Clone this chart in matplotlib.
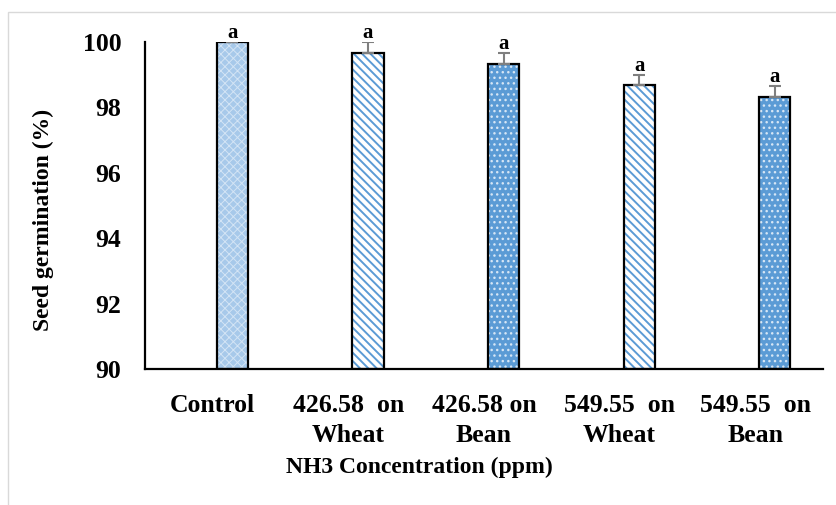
import numpy as np
import matplotlib.pyplot as plt
from matplotlib.patches import Rectangle

# datos
categorias = ["Control", "426.58  on\nWheat", "426.58 on\nBean", "549.55  on\nWheat", "549.55  on\nBean"]
germinacion = [100.0, 99.67, 99.33, 98.67, 98.33]
error = [0.0, 0.33, 0.33, 0.33, 0.33]
letras = ["a", "a", "a", "a", "a"]

plt.rcParams['font.family'] = ['Liberation Serif', 'DejaVu Serif']
plt.rcParams['font.weight'] = 'bold'

fig = plt.figure(figsize=(8.37, 5.05), dpi=100)
fig.patches.append(Rectangle((8 / 837, -0.1), 1.1, 1 - 12 / 505 + 0.1, transform=fig.transFigure,
                             fill=False, edgecolor='#d9d9d9', linewidth=1.0))
ax = fig.add_axes([145 / 837, (505 - 369) / 505, (823 - 145) / 837, (369 - 42) / 505])

x = np.arange(len(categorias))
xb = x + 0.145
ancho = 0.23

# estilos de relleno: (color de fondo, trama, color de trama, grosor de trama)
estilos = [
    ('#a7c9ea', 'xxxx', '#d3e4f5', 0.7),
    ('white', '\\\\\\\\', '#5b9bd5', 1.4),
    ('#5b9bd5', '...', '#d6e6f5', 1.0),
    ('white', '\\\\\\\\', '#5b9bd5', 1.4),
    ('#5b9bd5', '...', '#d6e6f5', 1.0),
]

for i in range(len(categorias)):
    fondo, trama, color_trama, grosor = estilos[i]
    plt.rcParams['hatch.linewidth'] = grosor
    ax.bar(xb[i], germinacion[i] - 90, bottom=90, width=ancho, color=fondo,
           hatch=trama, edgecolor=color_trama, linewidth=0, zorder=2)
    ax.bar(xb[i], germinacion[i] - 90, bottom=90, width=ancho, fill=False,
           edgecolor='black', linewidth=1.6, zorder=3)

ax.errorbar(xb, germinacion, yerr=[np.zeros(len(error)), error], fmt='none',
            ecolor='#7f7f7f', elinewidth=1.5, capsize=4.5, capthick=1.5, zorder=4)

for i in range(len(categorias)):
    ax.annotate(letras[i], (xb[i], germinacion[i] + error[i]), xytext=(0, 3),
                textcoords='offset points', ha='center', va='baseline',
                fontsize=15, fontweight='bold')

ax.set_ylim(90, 100)
ax.set_xlim(-0.5, 4.5)
ax.set_yticks([90, 92, 94, 96, 98, 100])
ax.set_xticks(x)
ax.set_xticklabels(categorias, fontsize=18.5, fontweight='bold', linespacing=1.4)
ax.tick_params(axis='y', length=0, pad=17, labelsize=18.5)
ax.tick_params(axis='x', length=0, pad=18)

for lado in ['top', 'right']:
    ax.spines[lado].set_visible(False)
for lado in ['left', 'bottom']:
    ax.spines[lado].set_linewidth(1.6)
ax.spines['bottom'].set_zorder(5)

ax.set_ylabel("Seed germination (%)", fontsize=17, fontweight='bold')
ax.yaxis.set_label_coords(-0.150, 0.456)
ax.yaxis.label.set_va('center')
ax.set_xlabel("NH3 Concentration (ppm)", fontsize=17, fontweight='bold')
ax.xaxis.set_label_coords(0.404, -0.300)
ax.xaxis.label.set_va('center')

fig.savefig('out.png', dpi=100)
